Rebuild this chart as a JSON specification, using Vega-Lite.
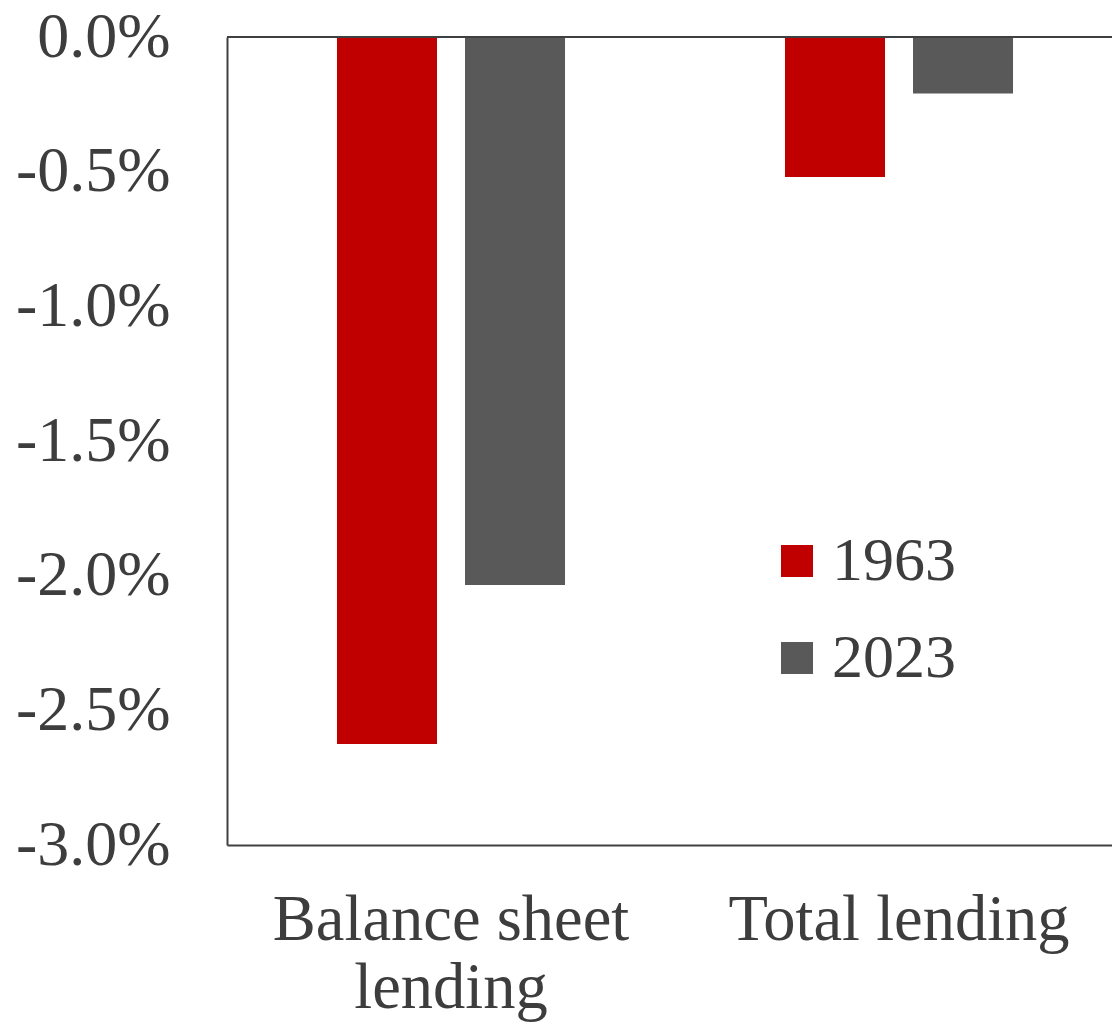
{
  "$schema": "https://vega.github.io/schema/vega-lite/v6.json",
  "autosize": {"type": "none"},
  "padding": {"left": 227, "top": 37, "right": 0, "bottom": 178},
  "width": 885,
  "height": 808,
  "background": "white",
  "config": {
    "view": {"stroke": null},
    "font": "Liberation Serif"
  },
  "data": {
    "values": [
      {"category": "Balance sheet|lending", "year": "1963", "value": -0.02625},
      {"category": "Balance sheet|lending", "year": "2023", "value": -0.02035},
      {"category": "Total lending", "year": "1963", "value": -0.0052},
      {"category": "Total lending", "year": "2023", "value": -0.0021}
    ]
  },
  "layer": [
    {
      "mark": {"type": "bar"},
      "encoding": {
        "x": {
          "field": "category",
          "type": "nominal",
          "sort": null,
          "scale": {"range": [0, 896], "paddingInner": 0.491, "paddingOuter": 0.2455},
          "axis": {
            "title": null,
            "labelAngle": 0,
            "ticks": false,
            "tickSize": 0,
            "domain": true,
            "domainColor": "#404040",
            "domainWidth": 2,
            "labelFont": "Liberation Serif",
            "labelFontSize": 64.5,
            "labelColor": "#3d3d3d",
            "labelPadding": 43,
            "labelLineHeight": 68,
            "labelLimit": 0,
            "labelExpr": "split(datum.label, '|')"
          }
        },
        "xOffset": {
          "field": "year",
          "type": "nominal",
          "scale": {"paddingInner": 0.21875, "paddingOuter": 0}
        },
        "y": {
          "field": "value",
          "type": "quantitative",
          "scale": {"domain": [-0.03, 0], "nice": false, "zero": false},
          "axis": {
            "title": null,
            "grid": false,
            "ticks": false,
            "tickSize": 0,
            "domain": true,
            "domainColor": "#404040",
            "domainWidth": 2,
            "values": [0, -0.005, -0.01, -0.015, -0.02, -0.025, -0.03],
            "labelFont": "Liberation Serif",
            "labelFontSize": 64,
            "labelColor": "#3d3d3d",
            "labelPadding": 57,
            "labelLimit": 0,
            "labelExpr": "replace(format(datum.value, '.1%'), '\u2212', '-')"
          }
        },
        "color": {
          "field": "year",
          "type": "nominal",
          "scale": {"domain": ["1963", "2023"], "range": ["#C00000", "#595959"]},
          "legend": {
            "title": null,
            "orient": "none",
            "legendX": 539,
            "legendY": 493,
            "symbolType": "square",
            "symbolSize": 1024,
            "symbolStrokeWidth": 0,
            "labelFont": "Liberation Serif",
            "labelFontSize": 62,
            "labelColor": "#3d3d3d",
            "labelOffset": 4,
            "labelLimit": 0,
            "rowPadding": 35
          }
        }
      }
    },
    {
      "mark": {"type": "rule", "color": "#404040", "strokeWidth": 2},
      "encoding": {"y": {"datum": 0}}
    }
  ]
}
